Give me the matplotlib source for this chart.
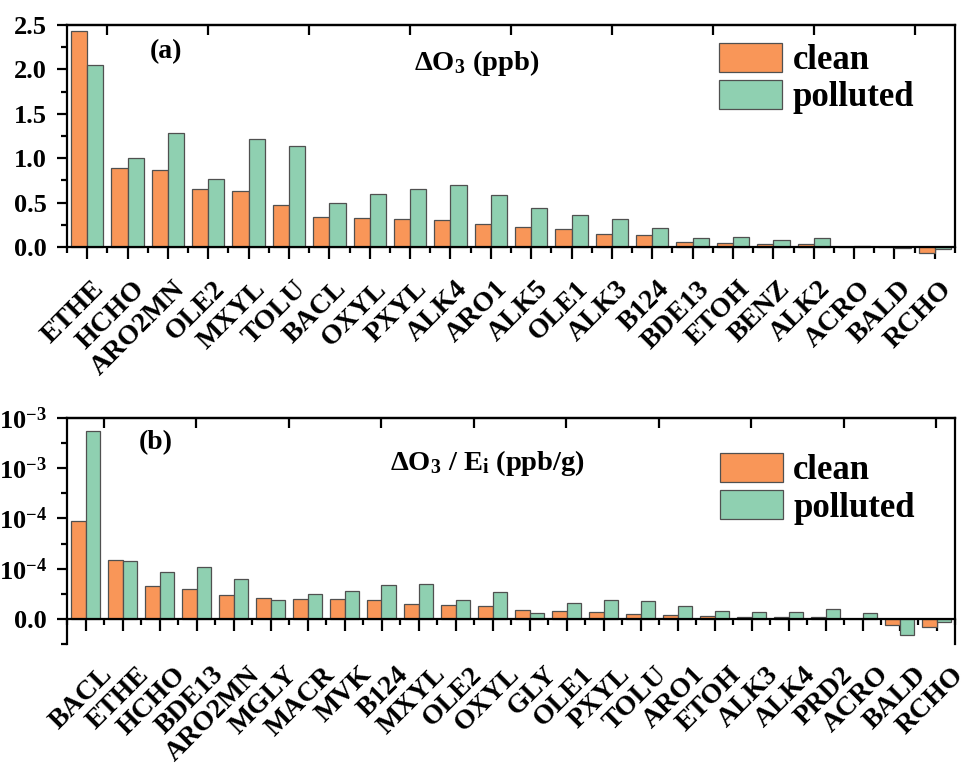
import numpy as np
import matplotlib
matplotlib.use("Agg")
import matplotlib.pyplot as plt
from matplotlib.transforms import ScaledTranslation
from matplotlib.ticker import MultipleLocator, FixedLocator

plt.rcParams['font.family'] = ['Liberation Serif', 'DejaVu Serif']
plt.rcParams['font.weight'] = 'bold'
plt.rcParams['mathtext.fontset'] = 'custom'
plt.rcParams['mathtext.rm'] = 'Liberation Serif:bold'
plt.rcParams['mathtext.it'] = 'Liberation Serif:bold'
plt.rcParams['mathtext.bf'] = 'Liberation Serif:bold'
plt.rcParams['mathtext.default'] = 'rm'

# ---------------- data ----------------
cats_a = ["ETHE", "HCHO", "ARO2MN", "OLE2", "MXYL", "TOLU", "BACL", "OXYL", "PXYL",
          "ALK4", "ARO1", "ALK5", "OLE1", "ALK3", "B124", "BDE13", "ETOH", "BENZ",
          "ALK2", "ACRO", "BALD", "RCHO"]
clean_a = [2.43, 0.893, 0.867, 0.657, 0.634, 0.477, 0.342, 0.330, 0.319, 0.308, 0.263,
           0.229, 0.206, 0.150, 0.139, 0.060, 0.049, 0.038, 0.038, 0.003, 0.002, -0.068]
polluted_a = [2.05, 1.006, 1.288, 0.766, 1.22, 1.141, 0.499, 0.60, 0.657, 0.702, 0.589,
              0.443, 0.364, 0.319, 0.218, 0.105, 0.116, 0.083, 0.105, 0.015, -0.012, -0.02]

cats_b = ["BACL", "ETHE", "HCHO", "BDE13", "ARO2MN", "MGLY", "MACR", "MVK", "B124",
          "MXYL", "OLE2", "OXYL", "GLY", "OLE1", "PXYL", "TOLU", "ARO1", "ETOH",
          "ALK3", "ALK4", "PRD2", "ACRO", "BALD", "RCHO"]
clean_b = [7.80e-4, 4.70e-4, 2.63e-4, 2.39e-4, 1.91e-4, 1.67e-4, 1.59e-4, 1.59e-4,
           1.51e-4, 1.19e-4, 1.11e-4, 1.04e-4, 0.74e-4, 0.64e-4, 0.56e-4, 0.40e-4,
           0.32e-4, 0.24e-4, 0.16e-4, 0.16e-4, 0.16e-4, 0.0, -0.48e-4, -0.64e-4]
polluted_b = [1.497e-3, 4.62e-4, 3.74e-4, 4.14e-4, 3.18e-4, 1.51e-4, 1.99e-4, 2.23e-4,
              2.71e-4, 2.79e-4, 1.51e-4, 2.15e-4, 0.48e-4, 1.27e-4, 1.51e-4, 1.43e-4,
              1.04e-4, 0.64e-4, 0.56e-4, 0.56e-4, 0.80e-4, 0.48e-4, -1.27e-4, -0.24e-4]

yticks_a = [0.0, 0.5, 1.0, 1.5, 2.0, 2.5]
yticklabels_a = ["0.0", "0.5", "1.0", "1.5", "2.0", "2.5"]
yticks_b = [0.0, 4e-4, 8e-4, 1.2e-3, 1.6e-3]
yticklabels_b = ["0.0", r"4.0x10$^{-4}$", r"8.0x10$^{-4}$", r"1.2x10$^{-3}$", r"1.6x10$^{-3}$"]

series_names = ["clean", "polluted"]
c_clean = "#F99658"
c_poll = "#8FD0B1"
edge = "#505050"

W, H = 969, 765
fig = plt.figure(figsize=(W / 100, H / 100), dpi=100)

def px_axes(l, t, r, b):
    return fig.add_axes([l / W, (H - b) / H, (r - l) / W, (b - t) / H])

FS = 19
XFS = 20
LFS = 25
LW = 1.6

def style(ax, n, labels, dx_px, pad_pt):
    for s in ['left', 'right', 'top', 'bottom']:
        ax.spines[s].set_linewidth(LW)
    x = np.arange(n)
    ax.set_xlim(-0.5, n - 0.5)
    ax.set_xticks(x)
    ax.set_xticklabels(labels, rotation=45, ha='right', va='center',
                       rotation_mode='anchor', fontsize=XFS, fontweight='bold')
    ax.xaxis.set_minor_locator(FixedLocator(np.arange(-0.5, n, 1.0)))
    ax.tick_params(axis='x', which='major', direction='out', length=8.5, width=LW,
                   pad=pad_pt, top=False)
    ax.tick_params(axis='x', which='minor', direction='out', length=4.5, width=LW, top=False)
    ax.tick_params(axis='y', which='major', direction='out', length=7.5, width=LW,
                   pad=7, labelsize=FS, right=False)
    ax.tick_params(axis='y', which='minor', direction='out', length=4, width=LW, right=False)
    off = ScaledTranslation(dx_px / 100, 0, fig.dpi_scale_trans)
    for lab in ax.get_xticklabels():
        lab.set_transform(lab.get_transform() + off)
    sec = ax.secondary_xaxis('top')
    sec.set_xticks(np.arange(0.5, n, 2.5))
    sec.tick_params(axis='x', direction='in', length=7.5, width=LW, labeltop=False)
    sec.spines['top'].set_linewidth(LW)
    return x

leg_kw = dict(loc='upper left', frameon=False, fontsize=LFS, handlelength=1.82,
              handleheight=0.9, labelspacing=0.08, handletextpad=0.3,
              borderpad=0, borderaxespad=0)

# ---------------- panel (a) ----------------
ax1 = px_axes(67, 25, 955, 247)
x1 = np.arange(len(cats_a))
ax1.bar(x1 - 0.2, clean_a, 0.4, color=c_clean, edgecolor=edge, linewidth=0.9,
        label=series_names[0], clip_on=False, zorder=2)
ax1.bar(x1 + 0.2, polluted_a, 0.4, color=c_poll, edgecolor=edge, linewidth=0.9,
        label=series_names[1], clip_on=False, zorder=2)
ax1.set_ylim(0, 2.5)
ax1.set_yticks(yticks_a, yticklabels_a)
ax1.yaxis.set_minor_locator(MultipleLocator(0.25))
style(ax1, len(cats_a), cats_a, 13, 19)
ax1.text(0.1115, 0.878, "(a)", transform=ax1.transAxes, fontsize=20, fontweight='bold',
         ha='center', va='center')
ax1.text(0.4617, 0.829, r"ΔO$_3$ (ppb)", transform=ax1.transAxes, fontsize=20.5,
         fontweight='bold', ha='center', va='center')
ax1.legend(bbox_to_anchor=(0.734, 0.92), **leg_kw)

# ---------------- panel (b) ----------------
ax2 = px_axes(67, 418, 955, 644)
x2 = np.arange(len(cats_b))
ax2.bar(x2 - 0.2, clean_b, 0.4, color=c_clean, edgecolor=edge, linewidth=0.9,
        label=series_names[0], zorder=2)
ax2.bar(x2 + 0.2, polluted_b, 0.4, color=c_poll, edgecolor=edge, linewidth=0.9,
        label=series_names[1], zorder=2)
ax2.set_ylim(-2e-4, 1.6e-3)
ax2.set_yticks(yticks_b, yticklabels_b)
ax2.yaxis.set_minor_locator(MultipleLocator(2e-4))
ax2.spines['bottom'].set_position(('data', 0))
style(ax2, len(cats_b), cats_b, 23, 29)
ax2.text(0.100, 0.889, "(b)", transform=ax2.transAxes, fontsize=20, fontweight='bold',
         ha='center', va='center')
ax2.text(0.474, 0.80, r"ΔO$_3$ / E$_\mathrm{i}$ (ppb/g)", transform=ax2.transAxes,
         fontsize=20.5, fontweight='bold', ha='center', va='center')
ax2.legend(bbox_to_anchor=(0.735, 0.845), **leg_kw)

fig.savefig("out.png", dpi=100)
